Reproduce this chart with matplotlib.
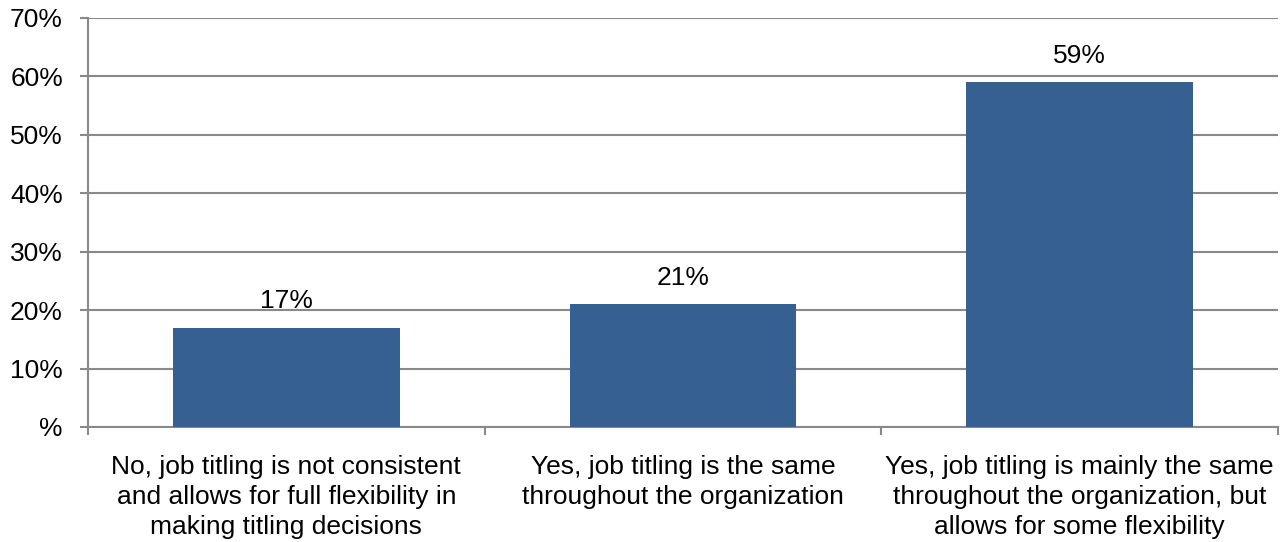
import numpy as np
import matplotlib
matplotlib.use('Agg')
import matplotlib.pyplot as plt

plt.rcParams['font.family'] = ['Liberation Sans', 'DejaVu Sans']

categories = ['No, job titling is not consistent\nand allows for full flexibility in\nmaking titling decisions',
              'Yes, job titling is the same\nthroughout the organization',
              'Yes, job titling is mainly the same\nthroughout the organization, but\nallows for some flexibility']
values = [17, 21, 59]
yticks = [0, 10, 20, 30, 40, 50, 60, 70]
ytick_labels = ['%', '10%', '20%', '30%', '40%', '50%', '60%', '70%']

grey = '#898989'
bar_color = '#366092'

fig = plt.figure(figsize=(12.86, 5.42), dpi=100)
ax = fig.add_axes([0.0684, 0.2122, 0.9254, 0.7546])

x = np.arange(len(values))
bars = ax.bar(x, values, width=0.572, color=bar_color, zorder=3)

for xi, v in zip(x, values):
    ax.annotate(f'{v}%', (xi, v), xytext=(0, 19), textcoords='offset points',
                ha='center', va='center', fontsize=19, zorder=4)

ax.set_xlim(-0.5, len(values) - 0.5)
ax.set_ylim(0, 70)
ax.set_yticks(yticks)
ax.set_yticklabels(ytick_labels, fontsize=19)
ax.yaxis.grid(True, color=grey, linewidth=1.5, zorder=0)

# category labels sit between boundary ticks
ax.set_xticks(np.arange(len(values) + 1) - 0.5)
ax.set_xticklabels([])
ax.set_xticks(x, minor=True)
ax.set_xticklabels(categories, minor=True, fontsize=19, linespacing=1.32)
ax.tick_params(axis='x', which='minor', length=0, pad=20)
ax.tick_params(axis='x', which='major', length=6, width=1.5, color=grey)
ax.tick_params(axis='y', length=6, width=1.5, color=grey, pad=12)

for side in ['top', 'right']:
    ax.spines[side].set_visible(False)
for side in ['left', 'bottom']:
    ax.spines[side].set_color(grey)
    ax.spines[side].set_linewidth(1.5)

fig.savefig('out.png', dpi=100)
